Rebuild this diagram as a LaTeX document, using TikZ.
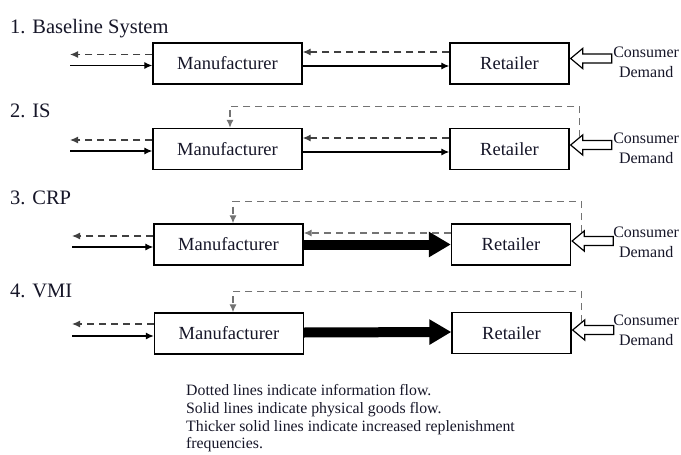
\documentclass[tikz,border=0pt]{standalone}
\usepackage{fontspec}
\setmainfont{Liberation Serif}
\usetikzlibrary{arrows.meta}
\definecolor{ink}{RGB}{22,22,40}
\tikzset{
  box/.style={draw=black, line width=1.3pt, minimum height=41pt, inner sep=0pt,
    font=\fontsize{18.5}{20}\selectfont, text=ink},
  mfr/.style={box, minimum width=149pt},
  ret/.style={box, minimum width=119pt},
  heading/.style={anchor=base west, inner sep=0pt, text=ink, font=\fontsize{20.5}{22}\selectfont},
  note/.style={anchor=base west, inner sep=0pt, text=ink, font=\fontsize{15.8}{17}\selectfont},
  demandtext/.style={align=center, inner sep=0pt, text=ink, font=\fontsize{16}{20}\selectfont},
  infoflow/.style={line width=1.25pt, draw=black!75, dash pattern=on 7pt off 5pt,
    -{Latex[length=8pt,width=7pt]}},
  feedback/.style={infoflow, draw=black!55},
  goods/.style={line width=1.25pt, -{Latex[length=8pt,width=7pt]}},
  bulk/.style={line width=10pt, -{Triangle[length=22pt,width=24pt]}},
  hollow/.pic={\draw[line width=1.2pt, fill=white, line join=miter]
    (0,0) -- (12,-10) -- (12,-4.5) -- (41,-4.5) -- (41,4.5) -- (12,4.5) -- (12,10) -- cycle;}
}
\begin{document}
\begin{tikzpicture}[x=1pt, y=-1pt]
\useasboundingbox (0,0) rectangle (681,455);

% ---- 1. Baseline system
\node[heading] (t1) at (10,34) {1. Baseline System};
\node[mfr] (m1) at (227.5,63.5) {Manufacturer};
\node[ret] (r1) at (509.5,63.5) {Retailer};
\coordinate (l1) at (70,63.5);
\draw[infoflow] ([yshift=9pt]m1.west) -- ([yshift=9pt]l1);
\draw[goods] ([yshift=-2pt]l1) -- ([yshift=-2pt]m1.west);
\draw[infoflow] ([yshift=11.5pt]r1.west) -- ([yshift=11.5pt]m1.east);
\draw[goods] ([yshift=-2.5pt]m1.east) -- ([yshift=-2.5pt]r1.west);
\pic at ([shift={(1,-5)}]r1.east) {hollow};
\node[demandtext] (c1) at ([shift={(76.5,-1)}]r1.east) {Consumer\\Demand};

% ---- 2. IS
\node[heading] (t2) at (10,117) {2. IS};
\node[mfr] (m2) at (227.5,149) {Manufacturer};
\node[ret] (r2) at (509.5,149) {Retailer};
\coordinate (l2) at (70,149);
\draw[infoflow] ([yshift=9pt]m2.west) -- ([yshift=9pt]l2);
\draw[goods] ([yshift=-2pt]l2) -- ([yshift=-2pt]m2.west);
\draw[infoflow] ([yshift=11pt]r2.west) -- ([yshift=11pt]m2.east);
\draw[goods] ([yshift=-3pt]m2.east) -- ([yshift=-3pt]r2.west);
\pic at ([shift={(1,-4)}]r2.east) {hollow};
\node[demandtext] (c2) at ([shift={(76.5,-1)}]r2.east) {Consumer\\Demand};
\coordinate (s2) at ([shift={(10,-12)}]r2.east);
\draw[feedback] (s2) |- ([xshift=2.5pt,yshift=21.5pt]m2.north) -- ([xshift=2.5pt]m2.north);

% ---- 3. CRP
\node[heading] (t3) at (10,204) {3. CRP};
\node[mfr] (m3) at (228.5,244.5) {Manufacturer};
\node[ret] (r3) at (511,244.5) {Retailer};
\coordinate (l3) at (72,244.5);
\draw[infoflow] ([yshift=8.5pt]m3.west) -- ([yshift=8.5pt]l3);
\draw[goods] ([yshift=-2.5pt]l3) -- ([yshift=-2.5pt]m3.west);
\draw[feedback] ([yshift=11.5pt]r3.west) -- ([yshift=11.5pt]m3.east);
\draw[bulk] (m3.east) -- (r3.west);
\pic at ([shift={(1,-3.5)}]r3.east) {hollow};
\node[demandtext] (c3) at ([shift={(75,-2)}]r3.east) {Consumer\\Demand};
\coordinate (s3) at ([shift={(10,-12.5)}]r3.east);
\draw[feedback] (s3) |- ([xshift=4.5pt,yshift=22pt]m3.north) -- ([xshift=4.5pt]m3.north);

% ---- 4. VMI
\node[heading] (t4) at (10,297) {4. VMI};
\node[mfr] (m4) at (229,333.5) {Manufacturer};
\node[ret] (r4) at (511.5,333) {Retailer};
\coordinate (l4) at (72,333.5);
\draw[infoflow] ([yshift=9.5pt]m4.west) -- ([yshift=9.5pt]l4);
\draw[goods] ([yshift=-2.5pt]l4) -- ([yshift=-2.5pt]m4.west);
\draw[bulk] ([yshift=1pt]m4.east) -- ([yshift=1pt]r4.west);
\pic at ([shift={(1,-3)}]r4.east) {hollow};
\node[demandtext] (c4) at ([shift={(74.5,-3)}]r4.east) {Consumer\\Demand};
\coordinate (s4) at ([shift={(10,-11)}]r4.east);
\draw[feedback] (s4) |- ([xshift=4pt,yshift=21pt]m4.north) -- ([xshift=4pt]m4.north);

% ---- legend
\node[note] (n1) at (186,395) {Dotted lines indicate information flow.};
\node[note] (n2) at (186,413) {Solid lines indicate physical goods flow.};
\node[note] (n3) at (186,431) {Thicker solid lines indicate increased replenishment};
\node[note] (n4) at (186,448) {frequencies.};
\end{tikzpicture}
\end{document}
